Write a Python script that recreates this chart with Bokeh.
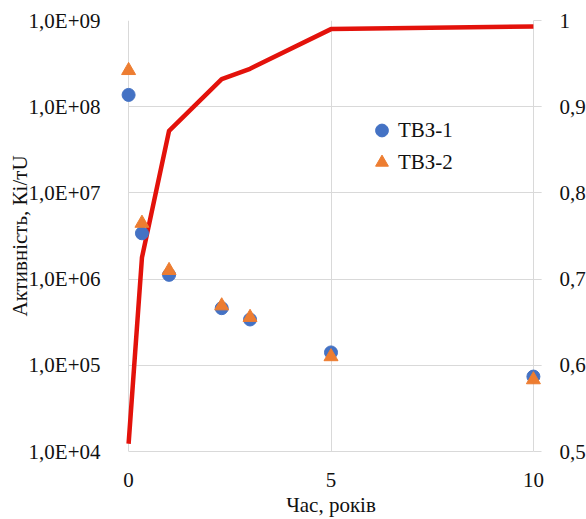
from bokeh.plotting import figure
from bokeh.models import (Range1d, LinearAxis, LinearScale, FixedTicker,
                          CustomJSTickFormatter, Legend, LegendItem)
from bokeh.embed import file_html
from bokeh.resources import INLINE

# ---- data ----
years = [0, 0.33, 1, 2.3, 3, 5, 10]
tvz1 = [1.37e8, 3.4e6, 1.12e6, 4.6e5, 3.4e5, 1.41e5, 7.4e4]
tvz2 = [2.63e8, 4.45e6, 1.26e6, 4.9e5, 3.6e5, 1.26e5, 6.8e4]
ratio = [0.509, 0.725, 0.872, 0.932, 0.944, 0.990, 0.993]

x_ticks = [0, 5, 10]
y_ticks = [1e4, 1e5, 1e6, 1e7, 1e8, 1e9]
y2_ticks = [0.5, 0.6, 0.7, 0.8, 0.9, 1.0]

FONT = "Liberation Serif"
TXT = "#111111"
GRID = "#d9d9d9"
BLUE = "#4472C4"
ORANGE = "#ED7D31"
RED = "#E3120B"

p = figure(width=578, height=511, frame_width=421, frame_height=431,
           output_backend="svg", toolbar_location=None,
           y_axis_type="log",
           x_range=Range1d(-0.2, 10.2), y_range=Range1d(1e4, 1e9),
           min_border_left=120, min_border_right=10, min_border_top=20,
           min_border_bottom=40)
p.extra_y_ranges = {"right": Range1d(0.5, 1.0)}
p.extra_y_scales = {"right": LinearScale()}
p.outline_line_color = None
p.background_fill_color = "white"

# grids
p.xgrid.ticker = FixedTicker(ticks=x_ticks)
p.xgrid.grid_line_color = GRID
p.ygrid.grid_line_color = GRID
p.ygrid.cross_bounds = (0, 10.2)

# bottom axis
xa = p.xaxis[0]
xa.ticker = FixedTicker(ticks=x_ticks)
xa.bounds = (0, 10)
xa.axis_line_color = GRID
xa.major_tick_line_color = None
xa.minor_tick_line_color = None
xa.major_label_standoff = 15
xa.axis_label = "Час, років"
xa.axis_label_standoff = 3

# left axis
ya = p.yaxis[0]
ya.ticker = FixedTicker(ticks=y_ticks)
ya.formatter = CustomJSTickFormatter(code="""
const e = Math.round(Math.log10(tick));
return "1,0E+" + String(e).padStart(2, "0");
""")
ya.axis_line_color = None
ya.major_tick_line_color = None
ya.minor_tick_line_color = None
ya.major_label_standoff = 14
ya.axis_label = "Активність, Кі/тU"
ya.axis_label_standoff = -6

# right axis
ra = LinearAxis(y_range_name="right")
ra.ticker = FixedTicker(ticks=y2_ticks)
ra.formatter = CustomJSTickFormatter(code="""
return (Math.round(tick * 10) / 10).toString().replace(".", ",");
""")
ra.axis_line_color = None
ra.major_tick_in = 8
ra.major_tick_out = 0
ra.major_tick_line_color = GRID
ra.minor_tick_line_color = None
ra.major_label_standoff = 18
p.add_layout(ra, "right")

for ax in (xa, ya, ra):
    ax.major_label_text_font = FONT
    ax.major_label_text_font_size = "21px"
    ax.major_label_text_color = TXT
    ax.axis_label_text_font = FONT
    ax.axis_label_text_font_size = "21px"
    ax.axis_label_text_font_style = "normal"
    ax.axis_label_text_color = TXT

# red ratio line (right axis)
p.line(years, ratio, y_range_name="right", line_color=RED, line_width=4.5,
       line_join="round")

# markers
r1 = p.scatter(years, tvz1, marker="circle", size=13, fill_color=BLUE,
               line_color=BLUE)
r2 = p.scatter(years, tvz2, marker="triangle", size=14, fill_color=ORANGE,
               line_color=ORANGE)

legend = Legend(items=[LegendItem(label="ТВЗ-1", renderers=[r1]),
                       LegendItem(label="ТВЗ-2", renderers=[r2])],
                location=(245, 273), orientation="vertical")
legend.glyph_width = 33
legend.glyph_height = 32
legend.label_standoff = 0
legend.spacing = 0
legend.padding = 0
legend.margin = 0
legend.border_line_color = None
legend.background_fill_alpha = 0
legend.label_text_font = FONT
legend.label_text_font_size = "21px"
legend.label_text_color = TXT
p.add_layout(legend)

open("out.html", "w").write(file_html(p, INLINE))
